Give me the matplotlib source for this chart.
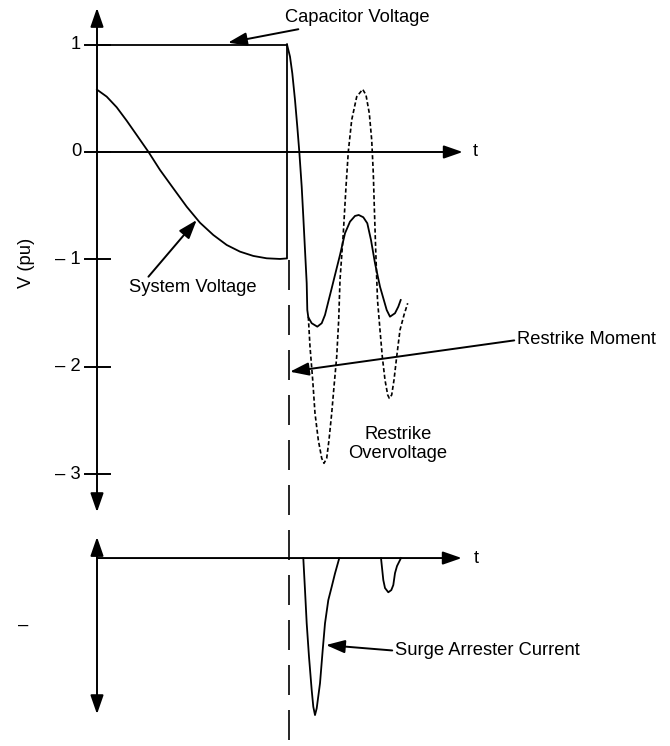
import matplotlib
matplotlib.use('Agg')
import matplotlib.pyplot as plt

plt.rcParams['font.family'] = ['Liberation Sans', 'DejaVu Sans']

# time axis is in arbitrary units, restrike happens at t = 1.9
sys_t = [0.0, 0.097, 0.197, 0.297, 0.397, 0.513, 0.63, 0.763, 0.897, 1.03,
         1.163, 1.297, 1.43, 1.563, 1.697, 1.83, 1.9, 1.9]
sys_v = [0.58, 0.515, 0.416, 0.291, 0.158, 0.003, -0.167, -0.338, -0.509, -0.658,
         -0.772, -0.865, -0.927, -0.967, -0.989, -0.995, -0.99, 1.0]

cap_t = [0.0, 1.9]
cap_v = [1.0, 1.0]

# capacitor voltage after the restrike (solid)
osc_t = [1.9, 1.93, 1.953, 1.98, 2.003, 2.023, 2.047, 2.063, 2.08, 2.097, 2.103,
         2.113, 2.147, 2.203, 2.247, 2.28, 2.313, 2.347, 2.38, 2.43, 2.48, 2.53,
         2.58, 2.617, 2.663, 2.703, 2.74, 2.78, 2.83, 2.897, 2.93, 2.98, 3.013, 3.037]
osc_v = [1.0, 0.887, 0.732, 0.484, 0.235, 0.003, -0.323, -0.602, -0.912, -1.221, -1.47,
         -1.538, -1.593, -1.625, -1.593, -1.516, -1.393, -1.268, -1.144, -0.958, -0.756, -0.648,
         -0.595, -0.586, -0.607, -0.663, -0.819, -1.035, -1.253, -1.47, -1.532, -1.5, -1.439, -1.377]

# restrike overvoltage (dotted)
ov_t = [2.113, 2.13, 2.157, 2.18, 2.213, 2.247, 2.27, 2.297, 2.32, 2.347, 2.37, 2.397,
        2.417, 2.43, 2.447, 2.463, 2.49, 2.513, 2.547, 2.597, 2.657, 2.69, 2.723, 2.747,
        2.763, 2.773, 2.787, 2.805, 2.83, 2.853, 2.88, 2.907, 2.923, 2.947, 2.97, 2.997,
        3.03, 3.07, 3.107]
ov_v = [-1.532, -1.811, -2.121, -2.431, -2.679, -2.849, -2.896, -2.849, -2.679, -2.431, -2.183, -1.904,
        -1.563, -1.191, -0.967, -0.756, -0.323, 0.003, 0.298, 0.514, 0.583, 0.53, 0.36, 0.112,
        -0.198, -0.509, -0.912, -1.377, -1.656, -1.904, -2.121, -2.26, -2.291, -2.26, -2.121, -1.904,
        -1.656, -1.516, -1.407]

# surge arrester current pulses
p1_t = [2.063, 2.08, 2.097, 2.12, 2.147, 2.163, 2.18, 2.197, 2.23, 2.257, 2.28, 2.313, 2.347, 2.38, 2.423]
p1_i = [0.0, -0.204, -0.416, -0.629, -0.841, -0.947, -1.0, -0.957, -0.798, -0.586, -0.416, -0.268, -0.183, -0.098, 0.0]
p2_t = [2.84, 2.863, 2.88, 2.913, 2.943, 2.963, 2.98, 3.0, 3.04]
p2_i = [0.0, -0.14, -0.191, -0.218, -0.204, -0.172, -0.096, -0.051, 0.0]

v_ticks = [1, 0, -1, -2, -3]
v_labels = ['1', '0', '\u2013 1', '\u2013 2', '\u2013 3']
t_restrike = 1.923

fig = plt.figure(figsize=(6.7, 7.46), dpi=100)
ax = fig.add_axes([0, 0, 1, 1])
ax2 = fig.add_axes([0, 0, 1, 1])
ax2.patch.set_alpha(0)
for a in (ax, ax2):
    a.set_xlim(-0.97, 5.73)
    a.axis('off')
ax.set_ylim(-5.526, 1.414)
ax2.set_ylim(-1.197, 3.554)

k = 'black'
fs = 13.2
head = dict(color=k, lw=1.4, shrinkA=0, shrinkB=0, mutation_scale=10)

# voltage axes
ax.annotate('', xy=(0, 1.34), xytext=(0, -3.35),
            arrowprops=dict(arrowstyle='<|-|>,head_length=1.15,head_width=0.4', **head))
ax.annotate('', xy=(3.657, 0), xytext=(0, 0),
            arrowprops=dict(arrowstyle='-|>,head_length=1.15,head_width=0.4', **head))
ax.text(3.787, 0, 't', fontsize=fs, ha='center', va='center')
for v, lab in zip(v_ticks, v_labels):
    ax.plot([-0.12, 0.13], [v, v], color=k, lw=1.4)
    ax.text(-0.16, v, lab, fontsize=fs, ha='right', va='center')
ax.text(-0.703, -1.033, 'V (pu)', fontsize=fs, rotation=90, ha='center', va='center')

ax.plot(cap_t, cap_v, color=k, lw=1.3)
ax.plot(sys_t, sys_v, color=k, lw=1.3)
ax.plot(osc_t, osc_v, color=k, lw=1.3)
ax.plot(ov_t, ov_v, color=k, lw=1.2, dashes=(2.5, 1.5))
ax.plot([t_restrike, t_restrike], [-1.005, -5.526], color=k, lw=1.2, dashes=(18, 9))

arr = dict(arrowstyle='-|>,head_length=1.15,head_width=0.4', **head)
ax.annotate('Capacitor Voltage', xy=(1.31, 1.017), xytext=(1.88, 1.247), fontsize=fs,
            ha='left', va='center', arrowprops=arr)
ax.annotate('System Voltage', xy=(0.997, -0.633), xytext=(0.963, -1.265), fontsize=fs,
            ha='center', va='center', arrowprops=dict(arr, relpos=(0.13, 1.0)))
ax.annotate('Restrike Moment', xy=(1.93, -2.044), xytext=(4.2, -1.749), fontsize=fs,
            ha='left', va='center', arrowprops=dict(arr, relpos=(0.0, 0.5)))
ax.text(3.01, -2.716, 'Restrike\nOvervoltage', fontsize=fs, ha='center', va='center',
        linespacing=1.2)

# current axes
ax2.annotate('', xy=(0, 0.134), xytext=(0, -0.994),
             arrowprops=dict(arrowstyle='<|-|>,head_length=1.15,head_width=0.4', **head))
ax2.annotate('', xy=(3.647, 0), xytext=(0, 0),
             arrowprops=dict(arrowstyle='-|>,head_length=1.15,head_width=0.4', **head))
ax2.text(3.79, 0, 't', fontsize=fs, ha='center', va='center')
ax2.text(-0.737, -0.427, '\u2013', fontsize=fs, ha='center', va='center')
ax2.plot(p1_t, p1_i, color=k, lw=1.3)
ax2.plot(p2_t, p2_i, color=k, lw=1.3)
ax2.annotate('Surge Arrester Current', xy=(2.29, -0.554), xytext=(2.98, -0.59), fontsize=fs,
             ha='left', va='center', arrowprops=dict(arr, relpos=(0.0, 0.5)))

fig.savefig('out.png', dpi=100)
